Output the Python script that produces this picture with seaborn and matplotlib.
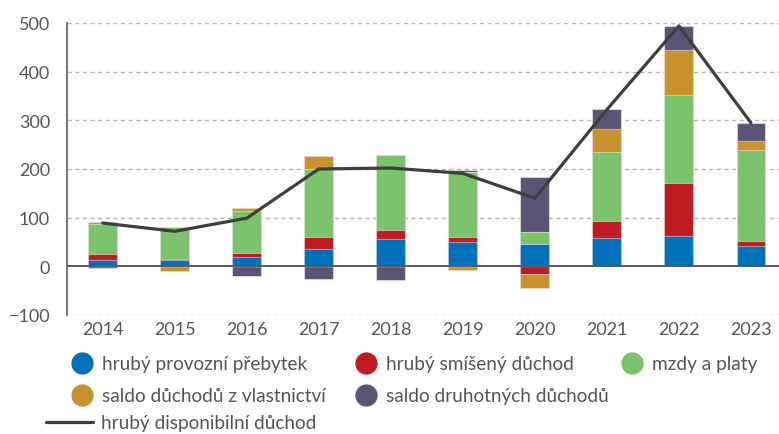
import numpy as np
import pandas as pd
import matplotlib
matplotlib.use("Agg")
import matplotlib.pyplot as plt
from matplotlib.lines import Line2D
import seaborn as sns

# Složky hrubého disponibilního důchodu (mld. Kč, meziroční změna)
years = ["2014", "2015", "2016", "2017", "2018", "2019", "2020", "2021", "2022", "2023"]
provozni_prebytek = [12, 12, 20, 35, 57, 50, 45, 58, 62, 42]
smiseny_duchod = [13, 3, 8, 25, 18, 10, -16, 35, 110, 10]
mzdy_platy = [61, 66, 86, 140, 154, 134, 25, 142, 180, 187]
duchody_vlastnictvi = [6, -10, 6, 27, 0, -7, -28, 48, 92, 18]
druhotne_duchody = [-4, 0, -20, -27, -29, 3, 113, 40, 50, 38]
disponibilni_duchod = [89, 72, 99, 200, 202, 191, 140, 322, 494, 295]

series_names = [
    "hrubý provozní přebytek",
    "hrubý smíšený důchod",
    "mzdy a platy",
    "saldo důchodů z vlastnictví",
    "saldo druhotných důchodů",
]
line_name = "hrubý disponibilní důchod"
series_values = [provozni_prebytek, smiseny_duchod, mzdy_platy,
                 duchody_vlastnictvi, druhotne_duchody]
colors = ["#0070BA", "#BE1B22", "#7AC36A", "#C8922E", "#5C5475"]
line_color = "#3E3E3E"
text_color = "#555555"

sns.set_theme(style="white")
plt.rcParams["font.family"] = ["Lato", "DejaVu Sans"]
plt.rcParams["axes.unicode_minus"] = True

W, H = 779, 435
fig = plt.figure(figsize=(W / 100, H / 100), dpi=100)
ax = fig.add_axes([66.7 / W, 1 - 316 / H, 1 - 66.7 / W, (316 - 24) / H])

# stacked bars: positive and negative parts stack separately from zero
vals = np.array(series_values, dtype=float)
pos_cum = np.cumsum(np.clip(vals, 0, None), axis=0)
neg_cum = np.cumsum(np.clip(vals, None, 0), axis=0)
for k in range(len(series_names) - 1, -1, -1):
    for cum in (pos_cum, neg_cum):
        df = pd.DataFrame({"rok": years, "hodnota": cum[k]})
        sns.barplot(data=df, x="rok", y="hodnota", color=colors[k],
                    saturation=1, width=0.4, ax=ax,
                    edgecolor=(1, 1, 1, 0.45), linewidth=0.8, zorder=2)

sns.lineplot(x=np.arange(len(years)), y=disponibilni_duchod, ax=ax,
             color=line_color, linewidth=2.3, zorder=4, sort=False)

ax.set_xlim(-0.5, 9.39)
ax.set_ylim(-100, 500)
ax.set_yticks(np.arange(-100, 501, 100))
ax.set_xticks(np.arange(len(years)))
ax.set_xticklabels(years)
ax.set_xlabel("")
ax.set_ylabel("")

for yv in np.arange(-100, 501, 100):
    if yv == 0:
        continue
    ax.axhline(yv, color="#B5B5B5", linewidth=1.0, linestyle=(0, (3, 2.5)), zorder=1)
ax.axhline(0, color="#5A5A5A", linewidth=1.4, zorder=3)

for s in ["top", "right", "bottom"]:
    ax.spines[s].set_visible(False)
ax.spines["left"].set_color("#6A6A6A")
ax.spines["left"].set_linewidth(1.3)
ax.tick_params(axis="both", length=0, labelsize=13, colors=text_color)
ax.tick_params(axis="y", pad=12)
ax.tick_params(axis="x", pad=4)

# legend entries placed one by one (handle left edge x, centre y in pixels)
fs = 13.7
entries = [
    (0, 70.8, 365), (1, 354.9, 365), (2, 620.8, 365),
    (3, 70.8, 397), (4, 354.9, 397),
]
for idx, x0, y0 in entries:
    h = Line2D([], [], linestyle="none", marker="o", markersize=15,
               markerfacecolor=colors[idx], markeredgecolor=colors[idx])
    fig.legend([h], [series_names[idx]], loc="center left",
               bbox_to_anchor=(x0 / W, 1 - y0 / H), frameon=False,
               borderpad=0, borderaxespad=0, handlelength=1.15,
               handletextpad=0.47, fontsize=fs, labelcolor=text_color)
hl = Line2D([], [], color=line_color, linewidth=2.3)
fig.legend([hl], [line_name], loc="center left",
           bbox_to_anchor=(46 / W, 1 - 424 / H), frameon=False,
           borderpad=0, borderaxespad=0, handlelength=2.46,
           handletextpad=0.42, fontsize=fs, labelcolor=text_color)

fig.savefig("out.png", dpi=100)
